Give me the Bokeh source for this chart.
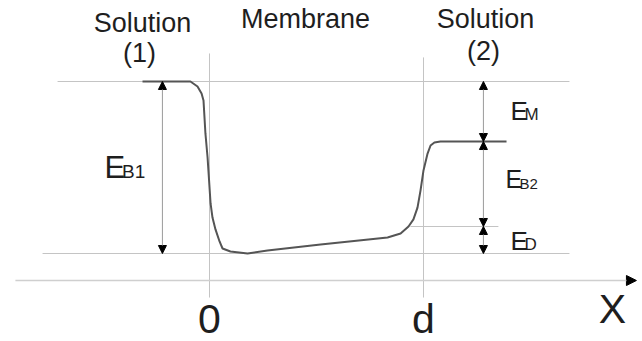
from bokeh.plotting import figure
from bokeh.models import Range1d, Arrow, NormalHead, Label
from bokeh.embed import file_html
from bokeh.resources import INLINE

# ---- diagram data (x in units of membrane thickness d, y in energy units) ----
curve_x = [-0.313, -0.089, -0.056, -0.037, -0.028, -0.019, -0.009, -0.005,
           0.005, 0.014, 0.028, 0.047, 0.061, 0.098, 0.178, 0.271, 0.519,
           0.832, 0.893, 0.930, 0.953, 0.972, 0.986, 1.000, 1.019, 1.033,
           1.051, 1.079, 1.388]
curve_y = [1.000, 1.000, 0.971, 0.930, 0.890, 0.698, 0.558, 0.483,
           0.291, 0.209, 0.140, 0.070, 0.029, 0.012, 0.000, 0.017, 0.052,
           0.093, 0.116, 0.157, 0.198, 0.267, 0.366, 0.483, 0.581, 0.628,
           0.645, 0.651, 0.651]

level_sol1 = 1.0      # solution (1) level
level_sol2 = 0.651    # solution (2) level
level_d = 0.157       # E_D upper level
level_min = 0.0       # membrane minimum
membrane_edges = [0.0, 1.0]
edge_labels = ["0", "d"]
region_labels = ["Solution", "Membrane", "Solution"]
region_sub = ["(1)", "(2)"]

FONT = "Liberation Sans"
TXT = "#1e1e1e"
GUIDE = "#c4c4c4"
PX_PER_UNIT_Y = 172.0

p = figure(width=642, height=341, output_backend="svg", toolbar_location=None,
           x_range=Range1d(-0.9766, 2.0234), y_range=Range1d(-0.5116, 1.4709),
           x_axis_location=None, y_axis_location=None, min_border=0,
           outline_line_color=None, background_fill_color="white",
           border_fill_color="white")
p.xgrid.visible = False
p.ygrid.visible = False

# guide lines
p.line([-0.710, 1.682], [level_sol1, level_sol1], line_color=GUIDE, line_width=1)
p.line([-0.780, 1.682], [level_min, level_min], line_color=GUIDE, line_width=1)
p.line([0.939, 1.350], [level_d, level_d], line_color=GUIDE, line_width=1)
p.line([membrane_edges[0]] * 2, [1.163, -0.256], line_color=GUIDE, line_width=1)
p.line([membrane_edges[1]] * 2, [1.140, -0.256], line_color=GUIDE, line_width=1)

# x axis with arrow
p.add_layout(Arrow(x_start=-0.907, y_start=-0.157, x_end=1.995, y_end=-0.157,
                   line_color="#cfcfcf", line_width=1.5, start=None,
                   end=NormalHead(size=10, fill_color="black", line_color="black")))

# energy curve
p.line(curve_x, curve_y, line_color="#555555", line_width=2)

# double-headed energy arrows
def dbl(x, y0, y1):
    p.add_layout(Arrow(x_start=x, y_start=y0, x_end=x, y_end=y1,
                       line_color="#9a9a9a", line_width=1,
                       start=NormalHead(size=8, fill_color="black", line_color="black"),
                       end=NormalHead(size=8, fill_color="black", line_color="black")))

dbl(-0.220, level_min, level_sol1)
dbl(1.280, level_sol2, level_sol1)
dbl(1.280, level_d, level_sol2)
dbl(1.280, level_min, level_d)

def lab(x, y, t, size, align="center"):
    # compensate for the renderer's baseline placement
    y_adj = y + 0.36 * size / PX_PER_UNIT_Y
    p.add_layout(Label(x=x, y=y_adj, text=t, text_font=FONT, text_font_size=f"{size}px",
                       text_color=TXT, text_align=align, text_baseline="alphabetic"))

# region titles
lab(-0.313, 1.285, region_labels[0], 27)
lab(-0.327, 1.110, region_sub[0], 27)
lab(0.449, 1.308, region_labels[1], 27)
lab(1.290, 1.308, region_labels[2], 27)
lab(1.280, 1.122, region_sub[1], 27)

# axis labels
lab(membrane_edges[0], -0.465, edge_labels[0], 41)
lab(membrane_edges[1], -0.465, edge_labels[1], 41)
lab(1.883, -0.407, "X", 41)

# energy labels (E + small subscript, same baseline)
lab(-0.491, 0.436, "E", 31, "left")
lab(-0.409, 0.436, "B1", 19, "left")
lab(1.407, 0.773, "E", 26, "left")
lab(1.472, 0.773, "M", 17, "left")
lab(1.383, 0.378, "E", 25, "left")
lab(1.449, 0.378, "B2", 15, "left")
lab(1.407, 0.017, "E", 26, "left")
lab(1.472, 0.017, "D", 17, "left")

open("out.html", "w").write(file_html(p, INLINE))
